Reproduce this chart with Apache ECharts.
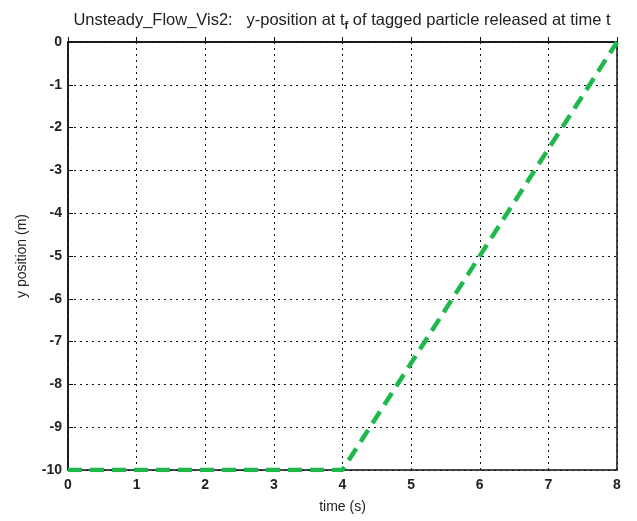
<!DOCTYPE html>
<html lang="en">
<head>
    <meta charset="UTF-8">
    <title>Unsteady Flow Vis2</title>
    <style>
        html, body { margin: 0; padding: 0; background: #fff; }
        #chart { width: 637px; height: 521px; }
    </style>
</head>
<body>
<div id="chart"></div>
<script src="https://cdn.jsdelivr.net/npm/echarts@6/dist/echarts.min.js"></script>
<script type="text/javascript">
    const chart = echarts.init(document.getElementById('chart'));

    // release time t (s) and y-position at t_f (m)
    const releaseTime = [0, 4, 8];
    const yPosition = [-10, -10, 0];

    const xTicks = [0, 1, 2, 3, 4, 5, 6, 7, 8];
    const yTicks = [-10, -9, -8, -7, -6, -5, -4, -3, -2, -1, 0];

    const font = 'Liberation Sans, Arial, sans-serif';

    const gridLine = { show: true, lineStyle: { color: '#111', type: [2, 4], width: 1 } };

    chart.setOption({
        animation: false,
        title: {
            text: '{a|Unsteady_Flow_Vis2:   y-position at t}{s|f}{a| of tagged particle released at time t}',
            left: 337,
            textAlign: 'center',
            top: 5,
            textStyle: {
                fontWeight: 'normal',
                rich: {
                    a: { fontFamily: font, fontSize: 16.5, fontWeight: 'normal', color: '#222' },
                    s: { fontFamily: font, fontSize: 11, fontWeight: 'bold', color: '#222', padding: [10, 0, 0, 0] }
                }
            }
        },
        grid: { left: 68, right: 20, top: 42, bottom: 51, show: true, borderColor: '#111', borderWidth: 1.5 },
        xAxis: {
            type: 'value',
            min: 0, max: 8, interval: 1,
            name: 'time (s)',
            nameLocation: 'middle',
            nameGap: 30,
            nameTextStyle: { fontFamily: font, fontSize: 14, color: '#222' },
            axisLine: { show: true, lineStyle: { color: '#111', width: 1.5 } },
            axisTick: { show: true, inside: true, length: 5, lineStyle: { color: '#111' } },
            axisLabel: { fontFamily: font, fontSize: 14, fontWeight: 'bold', color: '#222', margin: 8,
                formatter: v => xTicks.includes(v) ? String(v) : '' },
            splitLine: gridLine
        },
        yAxis: {
            type: 'value',
            min: -10, max: 0, interval: 1,
            name: 'y position (m)',
            nameLocation: 'middle',
            nameGap: 39,
            nameRotate: 90,
            nameTextStyle: { fontFamily: font, fontSize: 14, color: '#222' },
            axisLine: { show: true, lineStyle: { color: '#111', width: 1.5 } },
            axisTick: { show: true, inside: true, length: 5, lineStyle: { color: '#111' } },
            axisLabel: { fontFamily: font, fontSize: 14, fontWeight: 'bold', color: '#222', margin: 6,
                formatter: v => yTicks.includes(v) ? String(v) : '' },
            splitLine: gridLine
        },
        series: [{
            type: 'line',
            data: releaseTime.map((t, i) => [t, yPosition[i]]),
            showSymbol: false,
            lineStyle: { color: '#1fb84c', width: 4.5, type: [14, 8] },
            z: 5
        }]
    });
</script>
</body>
</html>
